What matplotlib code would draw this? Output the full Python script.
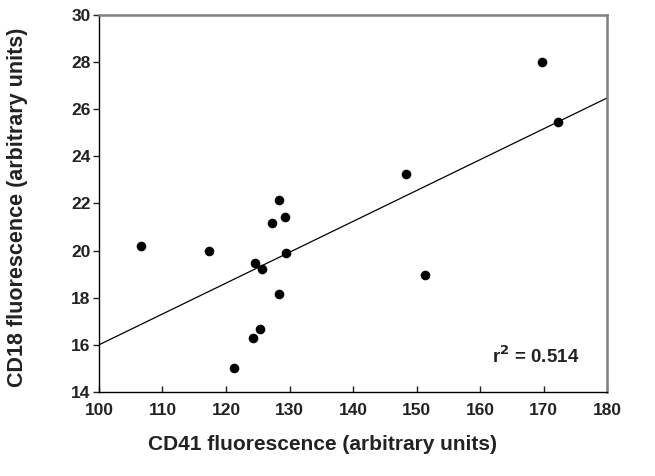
import matplotlib
matplotlib.use("Agg")
import matplotlib.pyplot as plt
import numpy as np

cd41 = [106.6, 117.4, 121.2, 124.3, 125.4, 124.5, 125.6, 128.3, 129.4,
        127.2, 128.3, 129.3, 148.3, 151.4, 169.8, 172.3]
cd18 = [20.18, 20.0, 15.03, 16.29, 16.69, 19.49, 19.23, 18.14, 19.91,
        21.19, 22.16, 21.44, 23.27, 18.95, 27.99, 25.45]
fit_intercept_at_100 = 16.0
fit_slope = 0.131
r2_text = "r$^2$ = 0.514"
xticks = [100, 110, 120, 130, 140, 150, 160, 170, 180]
yticks = [14, 16, 18, 20, 22, 24, 26, 28, 30]

plt.rcParams['font.family'] = ['Liberation Sans', 'DejaVu Sans']
plt.rcParams['font.weight'] = 'bold'
plt.rcParams['mathtext.default'] = 'bf'

fig = plt.figure(figsize=(6.55, 4.76), dpi=100)
ax = fig.add_axes([0.151, 0.1765, 0.776, 0.792])

ax.scatter(cd41, cd18, s=48, color='black', zorder=3, linewidths=0)
xl = np.array([100, 180])
ax.plot(xl, fit_intercept_at_100 + fit_slope * (xl - 100), color='black', lw=0.9)

ax.set_xlim(100, 180)
ax.set_ylim(14, 30)
ax.set_xticks(xticks)
ax.set_yticks(yticks)
ax.tick_params(axis='x', direction='in', length=4, width=1, labelsize=12.5, pad=8, colors='#222222')
ax.tick_params(axis='y', direction='out', length=4, width=1, labelsize=12.5, pad=2, colors='#222222')
for lab in ax.get_xticklabels() + ax.get_yticklabels():
    lab.set_fontweight('bold')

for s in ['left', 'bottom']:
    ax.spines[s].set_color('black')
    ax.spines[s].set_linewidth(1.0)
for s in ['top', 'right']:
    ax.spines[s].set_color('#808080')
    ax.spines[s].set_linewidth(1.8)

ax.set_xlabel('CD41 fluorescence (arbitrary units)', fontsize=15, fontweight='bold',
              color='#222222')
ax.xaxis.set_label_coords(0.44, -0.115)
ax.set_ylabel('CD18 fluorescence (arbitrary units)', fontsize=15.5, fontweight='bold',
              color='#222222')
ax.yaxis.set_label_coords(-0.14, 0.49)

ax.text(0.945, 0.095, r2_text, transform=ax.transAxes, ha='right', va='center',
        fontsize=13.5, fontweight='bold', color='#222222')

fig.savefig('out.png', dpi=100)
